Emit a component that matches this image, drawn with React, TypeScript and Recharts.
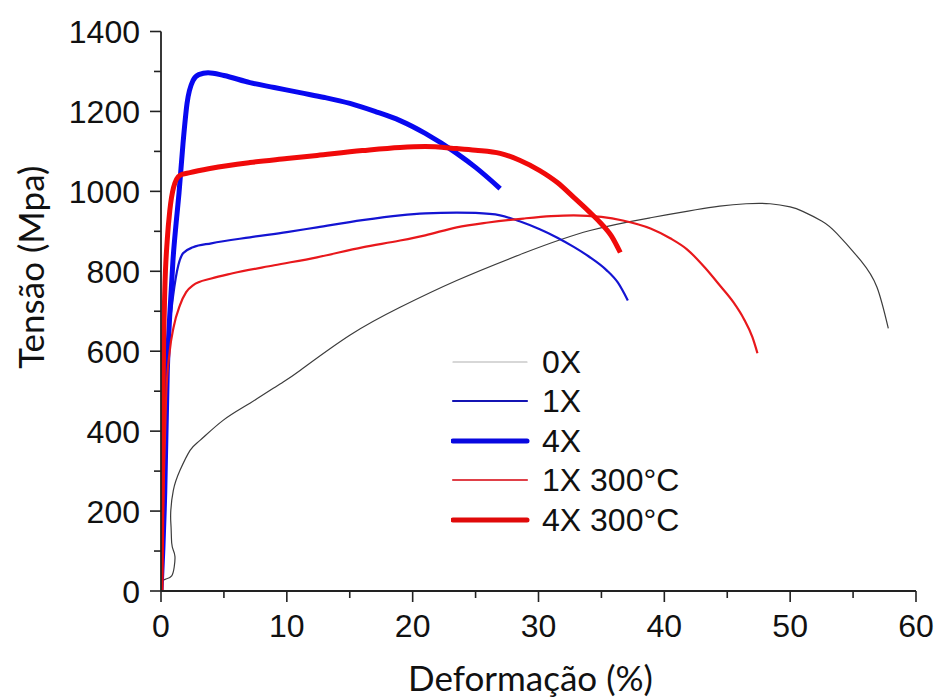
import { LineChart, Line, XAxis, YAxis, Legend } from "recharts";

// strain (%) / stress (MPa)
const strain0X = [0, 0.05, 0.4, 0.85, 1.05, 1.11, 0.98, 0.85, 0.8, 0.77, 0.98, 1.51, 2.31, 3.1, 4.93, 7.07, 9.46, 11.05, 15, 19, 23.5, 28.8, 34.1, 38.9, 40.5, 42.5, 44.4, 46.5, 48.4, 50, 51, 52.5, 53.7, 55.6, 56.9, 57.8];
const stress0X = [0, 23, 30, 38, 60, 86, 102, 120, 160, 195, 252, 302, 352, 377, 427, 470, 518, 552, 640, 710, 777, 845, 902, 934, 943, 954, 963, 969, 969, 961, 950, 926, 895, 827, 760, 657];

const strain1X = [0, 0.2, 0.4, 0.5, 0.85, 1.27, 1.75, 2.54, 4, 7.07, 10, 12.4, 16, 19, 21, 23.5, 25, 26.95, 28.5, 30.1, 31.5, 32.8, 34, 35.4, 36.3, 37.1];
const stress1X = [0, 250, 520, 602, 710, 800, 845, 860, 870, 885, 898, 910, 928, 940, 945, 947, 946, 940, 925, 905, 884, 861, 837, 803, 772, 727];

const strain4X = [0, 0.3, 0.5, 0.75, 0.95, 1.2, 1.43, 1.75, 2.07, 2.54, 3, 3.74, 5, 7.07, 9, 11.05, 13, 15.02, 17, 19, 21, 23.5, 25, 26.95];
const stress4X = [0, 250, 550, 720, 827, 920, 995, 1120, 1220, 1277, 1292, 1297, 1290, 1272, 1260, 1247, 1235, 1220, 1200, 1177, 1145, 1095, 1060, 1007];

const strain1X300 = [0, 0.2, 0.4, 0.7, 1, 1.5, 2, 2.54, 4, 5.7, 9, 12.4, 16, 19, 21, 23.5, 26, 28.8, 31, 32.8, 35, 36.7, 38.9, 40.5, 41.8, 43.2, 44.4, 45.5, 46.3, 47, 47.4];
const stress1X300 = [0, 250, 480, 602, 660, 715, 748, 765, 782, 795, 815, 835, 860, 877, 890, 910, 922, 932, 938, 940, 936, 927, 907, 882, 855, 810, 765, 722, 682, 635, 595];

const strain4X300 = [0, 0.1, 0.2, 0.3, 0.5, 0.7, 1, 1.5, 2.3, 4, 7.07, 10, 12.4, 16, 19, 21, 23.5, 25, 26.95, 28.5, 30.1, 31.5, 32.8, 34, 34.9, 35.8, 36.5];
const stress4X300 = [0, 300, 600, 750, 880, 952, 1010, 1040, 1047, 1058, 1072, 1082, 1090, 1102, 1110, 1112, 1107, 1103, 1095, 1078, 1052, 1022, 985, 950, 922, 888, 847];

const xTicks = [0, 5, 10, 15, 20, 25, 30, 35, 40, 45, 50, 55, 60];
const yTicks = [0, 100, 200, 300, 400, 500, 600, 700, 800, 900, 1000, 1100, 1200, 1300, 1400];

const zip = (s: number[], m: number[]) => s.map((v, i) => ({ strain: v, stress: m[i] }));

const series = [
  { name: "0X", data: zip(strain0X, stress0X), color: "#3c3c3c", legendColor: "#b0b0b0", width: 1.2, curve: "natural" },
  { name: "1X", data: zip(strain1X, stress1X), color: "#1414d2", legendColor: "#1414b4", width: 2.2, curve: "monotone" },
  { name: "4X", data: zip(strain4X, stress4X), color: "#0808f0", legendColor: "#0808e0", width: 5, curve: "monotone" },
  { name: "1X 300°C", data: zip(strain1X300, stress1X300), color: "#e8181c", legendColor: "#e04048", width: 2.2, curve: "monotone" },
  { name: "4X 300°C", data: zip(strain4X300, stress4X300), color: "#f00a0a", legendColor: "#e00a0a", width: 5, curve: "monotone" },
];

const tickFont = { fontFamily: "'Liberation Sans', Arial, sans-serif", fontSize: 32, fill: "#111" };
const titleFont = { fontFamily: "Lato, 'Open Sans', sans-serif", fontSize: 35, fill: "#111" };

function YTick(props: any) {
  const { x, y, payload } = props;
  const major = payload.value % 200 === 0;
  return (
    <g>
      <line x1={x} x2={x - (major ? 11 : 7)} y1={y} y2={y} stroke="#222" strokeWidth={1.6} />
      {major && (
        <text x={x - 21} y={y} dy="0.36em" textAnchor="end" {...tickFont}>
          {payload.value}
        </text>
      )}
    </g>
  );
}

function XTick(props: any) {
  const { x, y, payload } = props;
  const major = payload.value % 10 === 0;
  return (
    <g>
      <line x1={x} x2={x} y1={y} y2={y + (major ? 11 : 7)} stroke="#222" strokeWidth={1.6} />
      {major && (
        <text x={x} y={y + 46} textAnchor="middle" {...tickFont}>
          {payload.value}
        </text>
      )}
    </g>
  );
}

function LegendBox() {
  return (
    <div>
      {series.map((s) => (
        <div key={s.name} style={{ display: "flex", alignItems: "center", height: 39.5 }}>
          <svg width={80} height={12} style={{ marginRight: 11 }}>
            <line x1={2} x2={76} y1={6} y2={6} stroke={s.legendColor} strokeWidth={s.width} strokeLinecap="round" />
          </svg>
          <span style={{ fontFamily: tickFont.fontFamily, fontSize: 32, color: "#111", lineHeight: 1 }}>{s.name}</span>
        </div>
      ))}
    </div>
  );
}

export default function App() {
  return (
    <div style={{ position: "absolute", left: 0, top: 0, width: 939, height: 697, overflow: "hidden", background: "#fff" }}>
      <LineChart width={939} height={697} margin={{ top: 31.5, right: 23, left: 0, bottom: 0 }}>
        <XAxis
          dataKey="strain"
          type="number"
          domain={[0, 60]}
          ticks={xTicks}
          height={106}
          tickSize={0}
          tickMargin={0}
          tickLine={false}
          tick={<XTick />}
          axisLine={{ stroke: "#222", strokeWidth: 1.8 }}
          allowDataOverflow
          label={(p: any) => {
            const vb = p.viewBox;
            return (
              <text x={vb.x + vb.width / 2 - 8} y={vb.y + vb.height - 6} textAnchor="middle" {...titleFont}>
                Deformação (%)
              </text>
            );
          }}
        />
        <YAxis
          type="number"
          domain={[0, 1400]}
          ticks={yTicks}
          width={161}
          tickSize={0}
          tickMargin={0}
          tickLine={false}
          tick={<YTick />}
          axisLine={{ stroke: "#222", strokeWidth: 1.8 }}
          allowDataOverflow
          label={(p: any) => {
            const vb = p.viewBox;
            const cx = vb.x + 44;
            const cy = vb.y + vb.height / 2 - 44;
            return (
              <text x={cx} y={cy} textAnchor="middle" transform={`rotate(-90 ${cx} ${cy})`} {...titleFont}>
                Tensão (Mpa)
              </text>
            );
          }}
        />
        <Legend
          layout="vertical"
          align="center"
          verticalAlign="middle"
          content={() => <LegendBox />}
          wrapperStyle={{ left: 451, top: 342, width: 260 }}
        />
        {series.map((s) => (
          <Line
            key={s.name}
            name={s.name}
            data={s.data}
            dataKey="stress"
            type={s.curve as any}
            stroke={s.color}
            strokeWidth={s.width}
            dot={false}
            activeDot={false}
            isAnimationActive={false}
          />
        ))}
      </LineChart>
    </div>
  );
}
